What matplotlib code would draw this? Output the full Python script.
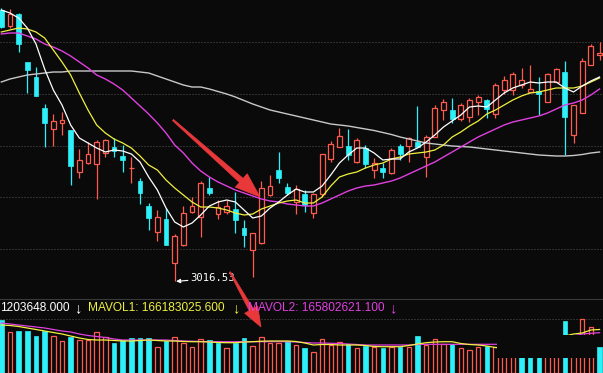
import matplotlib
matplotlib.use("Agg")
import matplotlib.pyplot as plt
from matplotlib.patches import Rectangle, Polygon
import numpy as np

# ---------------- data ----------------
opens = [3288, 3272, 3284, 3236, 3221, 3190, 3169, 3175, 3168, 3126,
         3135, 3134, 3145, 3151, 3142, 3130, 3117, 3092, 3066, 3079,
         3035, 3053, 3086, 3081, 3110, 3084, 3086, 3089, 3070, 3048,
         3055, 3103, 3128, 3111, 3096, 3104, 3085, 3104, 3139, 3151,
         3152, 3136, 3150, 3128, 3130, 3125, 3152, 3152, 3156, 3141,
         3161, 3188, 3188, 3179, 3181, 3196, 3198, 3184, 3208, 3208,
         3213, 3206, 3207, 3196, 3216, 3226, 3163, 3185, 3233, 3243]
highs = [3290, 3289, 3285, 3236, 3231, 3194, 3184, 3186, 3168, 3149,
         3156, 3158, 3159, 3160, 3153, 3141, 3120, 3095, 3088, 3090,
         3064, 3092, 3101, 3117, 3121, 3098, 3098, 3106, 3078, 3065,
         3117, 3123, 3146, 3115, 3113, 3108, 3105, 3144, 3157, 3170,
         3169, 3160, 3153, 3140, 3135, 3150, 3154, 3161, 3192, 3163,
         3193, 3199, 3200, 3195, 3200, 3203, 3199, 3215, 3222, 3226,
         3230, 3233, 3221, 3225, 3230, 3237, 3193, 3240, 3254, 3256]
lows = [3270, 3270, 3246, 3205, 3202, 3151, 3152, 3163, 3113, 3120,
        3134, 3099, 3141, 3141, 3126, 3115, 3094, 3068, 3057, 3053,
        3016.53, 3052, 3085, 3061, 3103, 3079, 3084, 3065, 3051, 3021,
        3054, 3102, 3115, 3103, 3084, 3086, 3080, 3101, 3136, 3151,
        3138, 3135, 3130, 3120, 3120, 3124, 3138, 3136, 3151, 3121,
        3161, 3178, 3175, 3177, 3176, 3183, 3180, 3180, 3204, 3203,
        3210, 3206, 3183, 3196, 3216, 3143, 3155, 3185, 3233, 3238]
closes = [3271, 3284, 3254, 3228, 3202, 3175, 3177, 3178, 3132, 3138,
          3144, 3156, 3158, 3147, 3138, 3130, 3105, 3080, 3081, 3053,
          3062, 3085, 3092, 3115, 3105, 3091, 3092, 3078, 3063, 3065,
          3110, 3112, 3120, 3105, 3109, 3093, 3104, 3144, 3154, 3162,
          3143, 3158, 3134, 3135, 3126, 3148, 3144, 3160, 3151, 3161,
          3190, 3196, 3179, 3193, 3198, 3201, 3189, 3213, 3218, 3224,
          3218, 3209, 3204, 3224, 3229, 3181, 3193, 3237, 3252, 3245]

ma5 = [3288, 3285, 3280, 3270, 3254, 3229, 3208, 3193, 3173, 3160,
       3155, 3150, 3146, 3148, 3147, 3144, 3136, 3121, 3108, 3090,
       3076, 3071, 3075, 3083, 3092, 3096, 3098, 3096, 3088, 3080,
       3082, 3090, 3096, 3103, 3109, 3106, 3106, 3112, 3123, 3135,
       3143, 3150, 3150, 3145, 3138, 3139, 3139, 3146, 3150, 3156,
       3163, 3171, 3177, 3183, 3191, 3192, 3191, 3198, 3205, 3210,
       3213, 3216, 3215, 3216, 3216, 3210, 3206, 3212, 3217, 3221]
ma10 = [3266, 3268, 3270, 3269, 3266, 3260, 3248, 3236, 3223, 3205,
        3188, 3173, 3165, 3159, 3155, 3150, 3142, 3133, 3128, 3118,
        3110, 3103, 3096, 3091, 3091, 3090, 3088, 3085, 3083, 3084,
        3089, 3092, 3095, 3097, 3098, 3095, 3095, 3101, 3112, 3121,
        3124, 3126, 3130, 3133, 3135, 3139, 3141, 3144, 3145, 3146,
        3148, 3153, 3161, 3166, 3172, 3177, 3184, 3188, 3193, 3198,
        3202, 3205, 3206, 3208, 3210, 3210, 3210, 3212, 3216, 3220]
ma20 = [3264, 3265, 3265, 3262, 3259, 3254, 3251, 3247, 3242, 3236,
        3230, 3223, 3219, 3214, 3208, 3200, 3192, 3184, 3175, 3165,
        3153, 3145, 3135, 3127, 3121, 3116, 3112, 3108, 3105, 3102,
        3099, 3097, 3096, 3094, 3093, 3092, 3092, 3095, 3099, 3103,
        3107, 3110, 3112, 3113, 3115, 3117, 3120, 3124, 3128, 3132,
        3136, 3141, 3146, 3151, 3156, 3161, 3165, 3169, 3173, 3176,
        3178, 3180, 3182, 3185, 3189, 3193, 3195, 3198, 3203, 3209]
ma60 = [3216, 3219, 3221, 3223, 3224, 3225, 3226, 3226, 3227, 3227,
        3227, 3227, 3227, 3227, 3227, 3227, 3226, 3225, 3222, 3219,
        3216, 3213, 3211, 3211, 3209, 3206.5, 3204, 3201, 3197.5, 3194,
        3191, 3188, 3186, 3184, 3182, 3180, 3178, 3176, 3174, 3173,
        3172, 3170.5, 3169, 3167.5, 3165.5, 3163.5, 3161, 3159, 3157, 3155,
        3154, 3153, 3152, 3151.5, 3151, 3150, 3149, 3148, 3147, 3146,
        3145, 3144, 3143, 3142.5, 3142, 3142, 3142.5, 3143.5, 3145, 3146]

volume = [265, 206.5, 210, 210, 185, 210, 185, 160, 181.5, 165,
          165, 203.5, 178.5, 151.5, 165, 173.5, 173.5, 173.5, 131.5, 160,
          181.5, 151.5, 131.5, 168.5, 165, 148.5, 123.5, 148.5, 173.5, 135,
          181.5, 148.5, 151.5, 160, 140, 123.5, 106.5, 168.5, 140, 153.5,
          143.5, 123.5, 135, 131.5, 126.5, 131.5, 131.5, 131.5, 185, 140,
          168.5, 143.5, 143.5, 126.5, 115, 131.5, 135, 131.5, 140, 150,
          145, 135, 140, 150, 145, 260, 165, 268.5, 231.5, 131.5]
vol_up = ("d u d d d d u u d u u u u d d d d d u d "
          "u u u u d d u d d u u u u d u d u u u u "
          "d u d u d u d u d u u u d u u u d u u u "
          "d d d u u d u u u d").split()
mavol1 = [240, 237.5, 232.5, 225, 217.5, 210, 202.5, 195, 185, 175,
          167.5, 165, 165, 162.5, 160, 160, 162.5, 165, 162.5, 160,
          160, 157.5, 156.5, 156.5, 155, 152.5, 151.5, 151.5, 155, 156.5,
          159, 160, 160, 160, 157.5, 150, 140, 142.5, 142.5, 140,
          140, 140, 137.5, 132.5, 131.5, 131.5, 131.5, 137.5, 145, 151.5,
          155, 156.5, 156.5, 147.5, 142.5, 140, 135, 127.5, 125, 130,
          135, 140, 150, 155, 165, 185, 195, 200, 215, 217.5]
mavol2 = [250, 245, 240, 235, 230, 225, 217.5, 210, 205, 195,
          187.5, 182.5, 177.5, 170, 165, 165, 165, 165, 165, 165,
          162.5, 160, 159, 157.5, 156.5, 156.5, 156.5, 156.5, 156.5, 156.5,
          156.5, 156.5, 156.5, 156.5, 155, 152.5, 150, 150, 148.5, 147.5,
          145, 142.5, 140, 140, 140, 140, 140, 140, 142.5, 143.5,
          143.5, 143.5, 143.5, 143.5, 143.5, 143.5, 143.5, 143.5, 142.5, 142.5,
          145, 150, 155, 160, 165, 175, 185, 195, 198.5, 201.5]

grid_levels = [3256, 3204, 3152, 3101, 3049]
vol_grid = [270]
low_label = "3016.53"
vol_text = "1203648.000"
mavol1_text = "MAVOL1: 166183025.600"
mavol2_text = "MAVOL2: 165802621.100"

# ---------------- style ----------------
BG = "#0a0a0a"
UP = "#ff5a50"
DN = "#2ef0f8"
C_MA5 = "#ffffff"
C_MA10 = "#f0f040"
C_MA20 = "#e040e0"
C_MA60 = "#c8c8c8"
GRID = "#555555"

W, H = 603, 373
fig = plt.figure(figsize=(W / 100, H / 100), dpi=100, facecolor=BG)
ax = fig.add_axes([0, (H - 298) / H, 1, 298 / H])
axv = fig.add_axes([0, 0, 1, 74 / H])
for a in (ax, axv):
    a.set_facecolor(BG)
    a.set_xticks([]); a.set_yticks([])
    for s in a.spines.values():
        s.set_visible(False)
    a.set_xlim(-0.15, 69.4)
ax.set_ylim(3000, 3298)
axv.set_ylim(0, 370)
axv.spines["top"].set_visible(True)
axv.spines["top"].set_color("#3a3a3a")
axv.spines["top"].set_linewidth(0.8)

n = len(closes)
x = np.arange(n)

for g in grid_levels:
    ax.axhline(g, color=GRID, lw=0.72, ls=(0, (1, 2)), zorder=1)
for g in vol_grid:
    axv.axhline(g, color=GRID, lw=0.72, ls=(0, (1, 2)), zorder=1)

bw = 0.56
for i in range(n):
    o, h, l, c = opens[i], highs[i], lows[i], closes[i]
    if c >= o:
        top, bot = max(o, c), min(o, c)
        ax.vlines(i, top, h, color=UP, lw=0.9, zorder=3)
        ax.vlines(i, l, bot, color=UP, lw=0.9, zorder=3)
        if c == o:
            ax.hlines(c, i - bw / 2, i + bw / 2, color=UP, lw=0.9, zorder=3)
        else:
            ax.add_patch(Rectangle((i - bw / 2, o), bw, c - o, facecolor=BG,
                                   edgecolor=UP, lw=0.9, zorder=3))
    else:
        ax.vlines(i, l, h, color=DN, lw=0.9, zorder=3)
        ax.add_patch(Rectangle((i - bw / 2, c), bw, o - c, facecolor=DN,
                               edgecolor=DN, lw=0.5, zorder=3))

ax.plot(x, ma60, color=C_MA60, lw=1.0, zorder=4)
ax.plot(x, ma20, color=C_MA20, lw=1.0, zorder=4)
ax.plot(x, ma10, color=C_MA10, lw=0.9, zorder=5)
ax.plot(x, ma5, color=C_MA5, lw=0.9, zorder=6)

imin = int(np.argmin(lows))
ax.annotate(low_label, xy=(imin, lows[imin]), xytext=(11.5, 2.2),
            textcoords="offset points", color="white", fontsize=7.6,
            family="DejaVu Sans Mono", va="center", ha="left",
            arrowprops=dict(arrowstyle="-|>", color="white", lw=0.8,
                            mutation_scale=6, shrinkA=0, shrinkB=1),
            zorder=8)

vw = 0.52
for i in range(n):
    if vol_up[i] == "u":
        axv.add_patch(Rectangle((i - vw / 2, 0), vw, volume[i], facecolor=BG,
                                edgecolor=UP, lw=0.9, zorder=3))
    else:
        axv.add_patch(Rectangle((i - vw / 2, 0), vw, volume[i], facecolor=DN,
                                edgecolor=DN, lw=0.5, zorder=3))
axv.plot(x, mavol2, color=C_MA20, lw=0.9, zorder=4)
axv.plot(x, mavol1, color=C_MA10, lw=0.9, zorder=5)

fam = ["Liberation Sans", "DejaVu Sans"]
ty = 1 - 308 / H
fs = 8.6
afs = 10.5
fig.text(0 / W, ty, vol_text, color="white", fontsize=fs, family=fam, va="center")
fig.text(78 / W, ty, "↓", color="white", fontsize=afs, family=fam, va="center", ha="center")
fig.text(88 / W, ty, mavol1_text, color=C_MA10, fontsize=fs, family=fam, va="center")
fig.text(236 / W, ty, "↓", color=C_MA10, fontsize=afs, family=fam, va="center", ha="center")
fig.text(248 / W, ty, mavol2_text, color=C_MA20, fontsize=fs, family=fam, va="center")
fig.text(393 / W, ty, "↓", color=C_MA20, fontsize=afs, family=fam, va="center", ha="center")

# ---------------- overlay (hand-drawn annotation arrows, mask) ----------------
ovl = fig.add_axes([0, 0, 1, 1])
ovl.set_xlim(0, W); ovl.set_ylim(H, 0); ovl.axis("off")
ovl.patch.set_alpha(0)


def tapered_arrow(tail, tip, w0, w1, hl, hw, color):
    tail = np.array(tail, float); tip = np.array(tip, float)
    u = (tip - tail) / np.linalg.norm(tip - tail)
    nrm = np.array([-u[1], u[0]])
    base = tip - u * hl
    pts = [tail + nrm * w0 / 2, base + nrm * w1 / 2, base + nrm * hw / 2, tip,
           base - nrm * hw / 2, base - nrm * w1 / 2, tail - nrm * w0 / 2]
    ovl.add_patch(Polygon(pts, closed=True, facecolor=color, edgecolor=color,
                          lw=0.5, zorder=10))


tapered_arrow((173, 120), (260, 197), 1.5, 5.5, 25, 18, "#e8383a")
tapered_arrow((230, 272), (261, 327), 1.2, 4.5, 20, 15, "#e8383a")

ovl.add_patch(Rectangle((497, 335), 100, 23, facecolor=BG, edgecolor="none", zorder=9))

fig.savefig("out.png", dpi=100, facecolor=BG)
